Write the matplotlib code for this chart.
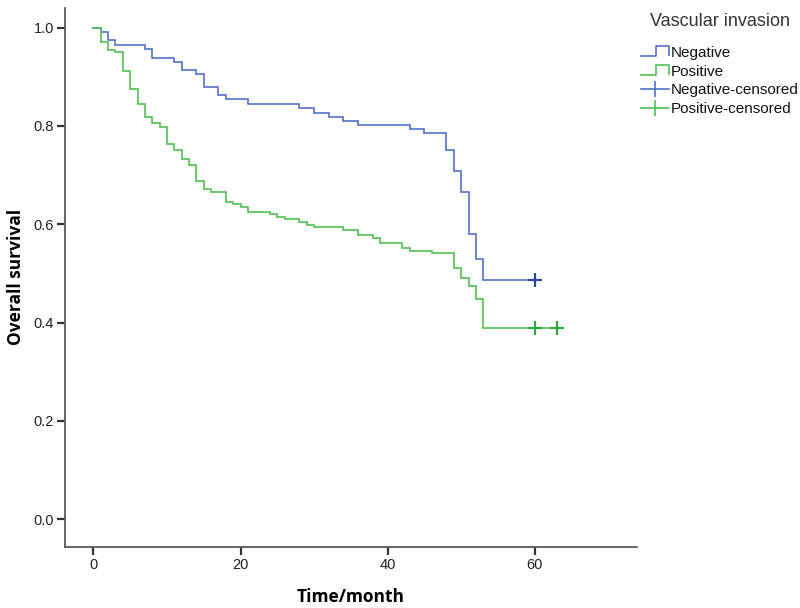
import numpy as np
import matplotlib
matplotlib.use("Agg")
import matplotlib.pyplot as plt
from matplotlib.lines import Line2D
from matplotlib.legend_handler import HandlerBase

# ---- data ----
neg_times = [0, 1, 2, 3, 7, 8, 11, 12, 14, 15, 17, 18, 21, 28, 30, 32, 34, 36,
             43, 45, 48, 49, 50, 51, 52, 53]
neg_surv = [1.0, 0.991, 0.974, 0.964, 0.956, 0.939, 0.930, 0.914, 0.906, 0.879,
            0.863, 0.854, 0.845, 0.836, 0.827, 0.819, 0.810, 0.803, 0.793, 0.786,
            0.751, 0.709, 0.666, 0.580, 0.529, 0.486]
neg_censor_times = [60]

pos_times = [0, 1, 2, 3, 4, 5, 6, 7, 8, 9, 10, 11, 12, 13, 14, 15, 16, 18, 19,
             20, 21, 24, 25, 26, 28, 29, 30, 34, 36, 38, 39, 42, 43, 46, 49, 50,
             51, 52, 53]
pos_surv = [1.0, 0.971, 0.955, 0.950, 0.912, 0.875, 0.845, 0.818, 0.807, 0.797,
            0.764, 0.752, 0.732, 0.721, 0.689, 0.672, 0.666, 0.646, 0.641, 0.635,
            0.625, 0.620, 0.615, 0.610, 0.605, 0.599, 0.594, 0.588, 0.578, 0.572,
            0.562, 0.551, 0.545, 0.541, 0.511, 0.490, 0.475, 0.448, 0.389]
pos_censor_times = [60, 63]

x_ticks = [0, 20, 40, 60]
y_ticks = [0.0, 0.2, 0.4, 0.6, 0.8, 1.0]
y_ticklabels = ["0.0", "0.2", "0.4", "0.6", "0.8", "1.0"]
legend_title = "Vascular invasion"
labels = ["Negative", "Positive", "Negative-censored", "Positive-censored"]

# ---- style ----
NEG_C = "#5670cc"
NEG_CEN = "#2f43a6"
POS_C = "#52c052"
POS_CEN = "#2ea83a"
AX_C = "#5a5a5a"

plt.rcParams["font.family"] = ["Liberation Sans", "DejaVu Sans"]

fig = plt.figure(figsize=(8.0, 6.08), dpi=100)
ax = fig.add_axes([0.0813, 0.1008, 0.7150, 0.8860])


def surv_at(times, surv, t):
    idx = np.searchsorted(times, t, side="right") - 1
    return surv[idx]


def draw_curve(times, surv, cens, color, ccolor):
    t = list(times) + [max(cens)]
    s = list(surv) + [surv[-1]]
    ax.step(t, s, where="post", color=color, lw=1.2, solid_joinstyle="miter")
    cs = [surv_at(times, surv, c) for c in cens]
    ax.plot(cens, cs, linestyle="none", marker="+", markersize=10,
            markeredgewidth=1.6, color=ccolor)


draw_curve(neg_times, neg_surv, neg_censor_times, NEG_C, NEG_CEN)
draw_curve(pos_times, pos_surv, pos_censor_times, POS_C, POS_CEN)

ax.set_xlim(-3.85, 73.9)
ax.set_ylim(-0.056, 1.04)
ax.set_xticks(x_ticks)
ax.set_yticks(y_ticks)
ax.set_yticklabels(y_ticklabels)
for sp in ["top", "right"]:
    ax.spines[sp].set_visible(False)
for sp in ["left", "bottom"]:
    ax.spines[sp].set_color(AX_C)
    ax.spines[sp].set_linewidth(1.3)
ax.tick_params(direction="out", length=6, width=1.6, color="#333333",
               labelsize=10.5, labelcolor="#222222", pad=2)

ax.set_xlabel("Time/month", fontsize=12.5, fontweight="bold",
              family=["Open Sans", "DejaVu Sans"], labelpad=12)
ax.set_ylabel("Overall survival", fontsize=12.5, fontweight="bold",
              family=["Open Sans", "DejaVu Sans"], labelpad=6)


class HandlerStep(HandlerBase):
    def __init__(self, color):
        super().__init__()
        self.color = color

    def create_artists(self, legend, orig_handle, xdescent, ydescent, width,
                       height, fontsize, trans):
        x0, x1 = -xdescent, -xdescent + width
        y0 = -ydescent + height * 0.05
        y1 = -ydescent + height * 0.95
        xm = x0 + width * 0.55
        xs = [x0, xm, xm, x1, x1]
        ys = [y0, y0, y1, y1, y0 + height * 0.1]
        ln = Line2D(xs, ys, color=self.color, lw=1.2, transform=trans)
        return [ln]


h_neg = Line2D([], [], color=NEG_C)
h_pos = Line2D([], [], color=POS_C)
h_negc = Line2D([], [], color=NEG_C, marker="|", markersize=12,
                markeredgewidth=1.2, lw=1.2)
h_posc = Line2D([], [], color=POS_C, marker="|", markersize=12,
                markeredgewidth=1.2, lw=1.2)

leg = fig.legend([h_neg, h_pos, h_negc, h_posc], labels,
                 handler_map={h_neg: HandlerStep(NEG_C), h_pos: HandlerStep(POS_C)},
                 loc="upper left", bbox_to_anchor=(0.801, 0.978),
                 frameon=False, fontsize=11, title=legend_title,
                 title_fontsize=13, handlelength=1.85, handletextpad=0.12,
                 labelspacing=0.32, borderpad=0.0, borderaxespad=0.0)
leg.get_title().set_color("#333333")
leg._legend_box.sep = 11
for t in leg.get_texts():
    t.set_color("#111111")

fig.savefig("out.png", dpi=100)
